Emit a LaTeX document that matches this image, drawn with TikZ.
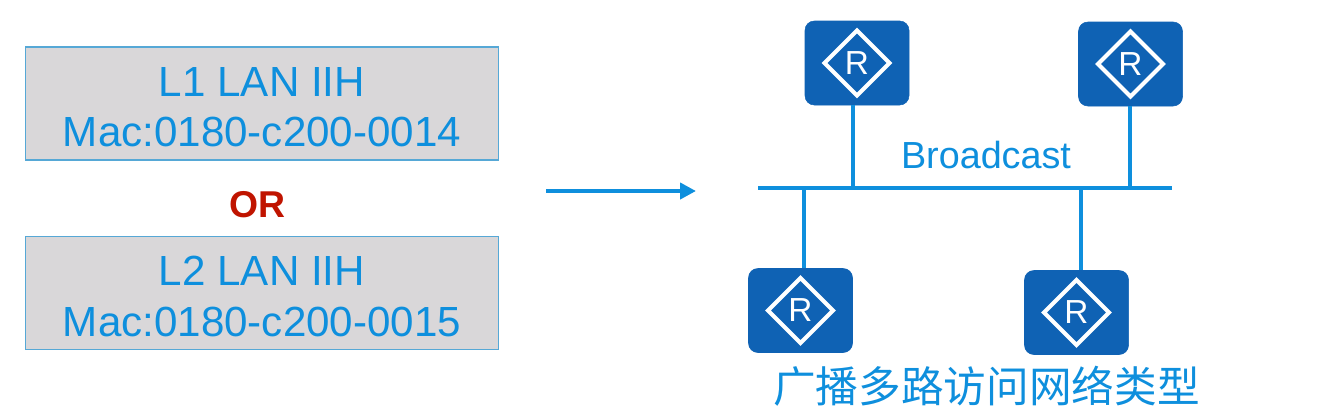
\documentclass[tikz,border=0pt]{standalone}
\usepackage{fontspec}
\setmainfont{Liberation Sans}
\newfontfamily\cjkfont{Noto Sans CJK SC}
\usetikzlibrary{shapes.geometric,arrows.meta}
\definecolor{linkblue}{HTML}{0E8FDD}
\definecolor{routerblue}{HTML}{0F62B4}
\definecolor{boxgray}{HTML}{D9D7D9}
\definecolor{boxedge}{HTML}{56A8D6}
\definecolor{orred}{HTML}{C01400}
\tikzset{
  iihbox/.style={draw=boxedge,line width=1.2pt,fill=boxgray,minimum width=355pt,minimum height=84.5pt,inner sep=0pt,
    text=linkblue,align=center,font=\fontsize{31.6pt}{37.8pt}\selectfont},
  router/.style={fill=routerblue,draw=routerblue,rounded corners=7pt,minimum width=78pt,minimum height=63pt,inner sep=0pt},
  routermark/.style={diamond,draw=white,line width=3pt,minimum width=50pt,minimum height=50pt,inner sep=0pt,aspect=1,
    text=white,font=\fontsize{25pt}{25pt}\selectfont},
  link/.style={draw=linkblue,line width=3.2pt}
}
\begin{document}
\begin{tikzpicture}[x=0.75pt,y=-0.75pt]
\useasboundingbox (0,0) rectangle (1341,412);
\fill[white] (0,0) rectangle (1341,412);
\node[iihbox] (b1) at (262,103.5) {\rule{0pt}{27pt}L1 LAN IIH\\Mac:0180-c200-0014};
\node[iihbox] (b2) at (262,293) {\rule{0pt}{27pt}L2 LAN IIH\\Mac:0180-c200-0015};
\node[text=orred,font=\bfseries\fontsize{28pt}{28pt}\selectfont,inner sep=0pt] (or) at (257,205) {OR};
\coordinate (as) at (546,191);
\coordinate (ae) at (696,191);
\draw[link,-{Triangle[length=12pt,width=12pt]}] (as) -- (ae);
\coordinate (busl) at (758,188);
\coordinate (busr) at (1172,188);
\coordinate (t1) at (853,188);
\coordinate (t2) at (1130,188);
\coordinate (t3) at (804,188);
\coordinate (t4) at (1081,188);
\node[router] (r1) at (857,63) {};
\node[router] (r2) at (1130.5,64) {};
\node[router] (r3) at (800.5,310.5) {};
\node[router] (r4) at (1076.5,312.5) {};
\draw[link] (t1) -- (t1 |- r1.south);
\draw[link] (t2) -- (t2 |- r2.south);
\draw[link] (t3) -- (t3 |- r3.north);
\draw[link] (t4) -- (t4 |- r4.north);
\draw[link] (busl) -- (busr);
\node[routermark] (m1) at (r1) {R};
\node[routermark] (m2) at (r2) {R};
\node[routermark] (m3) at (r3) {R};
\node[routermark] (m4) at (r4) {R};
\node[text=linkblue,font=\fontsize{28.3pt}{28.3pt}\selectfont,inner sep=0pt] (bc) at (986,155) {Broadcast};
\node[text=linkblue,font=\cjkfont\fontsize{32pt}{32pt}\selectfont,inner sep=0pt] (cap) at (986.5,386.5) {广播多路访问网络类型};
\end{tikzpicture}
\end{document}
